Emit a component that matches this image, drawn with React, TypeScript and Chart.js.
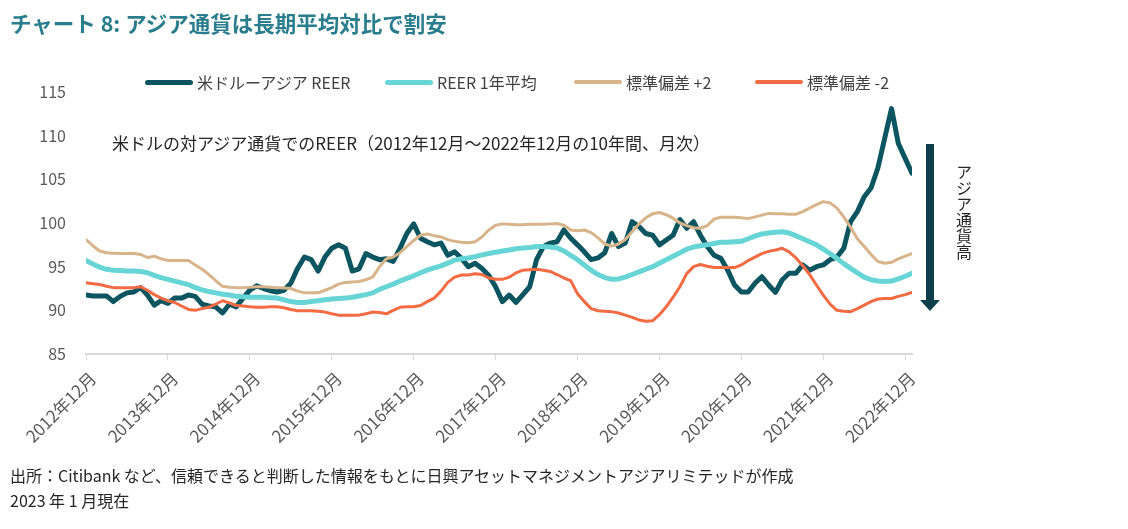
import React, { useEffect, useRef } from "react";
import { Chart, registerables } from "chart.js";

Chart.register(...registerables);

const tickLabels = [
  "2012年12月", "2013年12月", "2014年12月", "2015年12月", "2016年12月", "2017年12月",
  "2018年12月", "2019年12月", "2020年12月", "2021年12月", "2022年12月",
];

const seriesNames = ["米ドルーアジア REER", "REER 1年平均", "標準偏差 +2", "標準偏差 -2"];

const reer = [
  91.75, 91.65, 91.65, 91.65, 91.0, 91.6, 92.0, 92.1, 92.6, 91.75,
  90.6, 91.1, 90.8, 91.4, 91.4, 91.75, 91.6, 90.7, 90.5, 90.4,
  89.7, 90.7, 90.4, 91.4, 92.3, 92.8, 92.5, 92.25, 92.1, 92.3,
  93.1, 94.8, 96.1, 95.8, 94.5, 96.1, 97.1, 97.5, 97.1, 94.5,
  94.75, 96.5, 96.1, 95.8, 95.9, 95.6, 97.1, 98.8, 99.9, 98.25,
  97.85, 97.5, 97.7, 96.3, 96.7, 95.95, 95.0, 95.4, 94.8, 94.0,
  92.7, 91.0, 91.75, 90.9, 91.8, 92.7, 95.8, 97.3, 97.7, 97.85,
  99.2, 98.25, 97.5, 96.7, 95.8, 96.0, 96.6, 98.8, 97.3, 97.7,
  100.15, 99.6, 98.8, 98.6, 97.5, 98.05, 98.6, 100.4, 99.4, 100.15,
  98.6, 97.3, 96.3, 95.95, 94.6, 92.9, 92.1, 92.1, 93.1, 93.85,
  92.9, 92.05, 93.5, 94.25, 94.25, 95.2, 94.6, 95.0, 95.2, 95.8,
  96.1, 97.1, 100.15, 101.3, 103.0, 104.0, 106.3, 109.7, 113.1, 109.1,
  107.4, 105.7,
];

const avg1y = [
  95.7, 95.3, 94.95, 94.7, 94.6, 94.55, 94.5, 94.5, 94.45, 94.3,
  94.0, 93.75, 93.55, 93.35, 93.15, 92.95, 92.6, 92.35, 92.15, 92.0,
  91.85, 91.75, 91.6, 91.55, 91.5, 91.5, 91.5, 91.45, 91.4, 91.2,
  91.0, 90.9, 90.9, 91.0, 91.1, 91.2, 91.3, 91.35, 91.4, 91.5,
  91.65, 91.8, 92.0, 92.4, 92.7, 93.0, 93.35, 93.65, 93.95, 94.3,
  94.6, 94.85, 95.1, 95.4, 95.75, 95.9, 96.0, 96.15, 96.35, 96.5,
  96.65, 96.8, 96.9, 97.05, 97.15, 97.2, 97.3, 97.3, 97.25, 97.15,
  96.8, 96.3, 95.8, 95.2, 94.6, 94.1, 93.75, 93.55, 93.6, 93.8,
  94.1, 94.4, 94.7, 95.0, 95.4, 95.8, 96.2, 96.6, 97.0, 97.25,
  97.4, 97.5, 97.65, 97.8, 97.8, 97.85, 97.9, 98.2, 98.5, 98.75,
  98.85, 98.95, 99.0, 98.85, 98.55, 98.2, 97.85, 97.5, 97.0, 96.5,
  95.95, 95.35, 94.8, 94.3, 93.8, 93.5, 93.35, 93.3, 93.35, 93.6,
  93.9, 94.25,
];

const plus2 = [
  98.1, 97.4, 96.8, 96.6, 96.55, 96.5, 96.5, 96.5, 96.4, 96.05,
  96.2, 95.9, 95.7, 95.7, 95.7, 95.7, 95.2, 94.7, 94.1, 93.4,
  92.75, 92.65, 92.6, 92.6, 92.65, 92.7, 92.7, 92.65, 92.6, 92.55,
  92.5, 92.2, 92.0, 92.0, 92.0, 92.3, 92.6, 93.0, 93.2, 93.25,
  93.3, 93.5, 93.8, 95.0, 95.9, 96.1, 96.6, 97.3, 98.0, 98.6,
  98.75, 98.55, 98.4, 98.1, 97.9, 97.8, 97.75, 97.85, 98.4, 99.2,
  99.75, 99.9, 99.85, 99.8, 99.8, 99.85, 99.85, 99.85, 99.9, 99.95,
  99.75, 99.2, 99.1, 99.2, 98.9, 98.3, 97.6, 97.35, 97.6, 98.1,
  99.0, 99.9, 100.6, 101.05, 101.2, 100.95, 100.55, 100.0, 99.7, 99.45,
  99.4, 99.7, 100.45, 100.65, 100.65, 100.65, 100.6, 100.5, 100.7, 100.9,
  101.1, 101.05, 101.05, 101.0, 101.0, 101.3, 101.7, 102.1, 102.45, 102.3,
  101.7, 100.7, 99.5, 98.2, 97.3, 96.4, 95.6, 95.4, 95.5, 95.9,
  96.2, 96.5,
];

const minus2 = [
  93.15, 93.05, 92.95, 92.75, 92.6, 92.6, 92.6, 92.6, 92.7, 92.3,
  91.8, 91.4, 91.1, 90.9, 90.5, 90.1, 90.0, 90.2, 90.35, 90.7,
  91.1, 90.85, 90.55, 90.5, 90.4, 90.35, 90.35, 90.4, 90.4, 90.3,
  90.1, 89.95, 89.95, 89.95, 89.9, 89.8, 89.6, 89.45, 89.45, 89.45,
  89.45, 89.6, 89.8, 89.75, 89.6, 90.0, 90.35, 90.4, 90.4, 90.55,
  91.0, 91.4, 92.2, 93.2, 93.8, 94.05, 94.05, 94.2, 94.1, 93.7,
  93.55, 93.55, 93.8, 94.3, 94.6, 94.65, 94.7, 94.6, 94.45, 94.1,
  93.7, 93.4, 91.9, 91.0, 90.2, 89.95, 89.9, 89.85, 89.7, 89.45,
  89.2, 88.9, 88.75, 88.8, 89.5, 90.4, 91.5, 92.7, 94.2, 95.0,
  95.25, 95.05, 94.9, 94.9, 94.9, 94.9, 95.2, 95.7, 96.1, 96.5,
  96.75, 96.9, 97.1, 96.7, 96.0, 95.1, 94.1, 92.9, 91.75, 90.7,
  90.0, 89.9, 89.85, 90.2, 90.6, 91.0, 91.3, 91.35, 91.35, 91.6,
  91.8, 92.05,
];

const colors = ["#0b5561", "#67d4d6", "#d8b48b", "#f36b43"];
const widths = [5, 5, 3, 3];

const CANVAS_W = 1128;
const CANVAS_H = 470;
const FONT = "'Noto Sans CJK JP', 'Liberation Sans', sans-serif";
const JP = "'Noto Sans CJK JP', 'Liberation Sans', sans-serif";

export default function App() {
  const ref = useRef<HTMLCanvasElement>(null);

  useEffect(() => {
    const toPts = (arr: number[]) => arr.map((v, i) => ({ x: i, y: v }));
    const all = [reer, avg1y, plus2, minus2];
    const chart = new Chart(ref.current as HTMLCanvasElement, {
      type: "line",
      data: {
        datasets: all.map((arr, k) => ({
          label: seriesNames[k],
          data: toPts(arr),
          borderColor: colors[k],
          backgroundColor: colors[k],
          borderWidth: widths[k],
          pointRadius: 0,
          tension: 0,
          borderJoinStyle: "round" as const,
          borderCapStyle: "round" as const,
          order: 3 - k,
        })),
      },
      options: {
        responsive: false,
        animation: false,
        layout: { padding: { top: 92, right: CANVAS_W - 912, left: 0, bottom: 0 } },
        plugins: { legend: { display: false }, tooltip: { enabled: false } },
        scales: {
          x: {
            type: "linear",
            min: 0,
            max: 121,
            afterFit: (s: any) => {
              s.height = CANVAS_H - 354;
            },
            grid: {
              display: true,
              drawOnChartArea: false,
              drawTicks: true,
              tickLength: 6,
              color: "#d9d9d9",
              lineWidth: 1,
            },
            border: { display: true, color: "#d9d9d9", width: 2 },
            ticks: {
              stepSize: 12,
              includeBounds: false,
              autoSkip: false,
              minRotation: 45,
              maxRotation: 45,
              padding: 8,
              labelOffset: 7,
              color: "#595959",
              font: { family: FONT, size: 17 },
              callback: (v: any) => {
                const idx = Math.round(Number(v) / 12);
                return Number(v) % 12 === 0 ? tickLabels[idx] : null;
              },
            },
          },
          y: {
            min: 85,
            max: 115,
            afterFit: (s: any) => {
              s.width = 86;
            },
            grid: { display: false },
            border: { display: false },
            ticks: {
              stepSize: 5,
              padding: 12,
              color: "#595959",
              font: { family: FONT, size: 16 },
            },
          },
        },
      },
    });
    return () => chart.destroy();
  }, []);

  const legendLeft = [145, 385, 574, 755];

  return (
    <div
      style={{
        position: "relative",
        width: CANVAS_W,
        height: 529,
        background: "#fff",
        overflow: "hidden",
        fontFamily: JP,
      }}
    >
      <style>{`body{margin:0}`}</style>
      <canvas
        ref={ref}
        width={CANVAS_W}
        height={CANVAS_H}
        style={{ position: "absolute", left: 0, top: 0, width: CANVAS_W, height: CANVAS_H }}
      />
      <div
        style={{
          position: "absolute",
          left: 10,
          top: 8,
          fontSize: 21.5,
          fontWeight: 700,
          color: "#2a7d8c",
          lineHeight: "29px",
          whiteSpace: "nowrap",
        }}
      >
        チャート 8: アジア通貨は長期平均対比で割安
      </div>
      {seriesNames.map((name, k) => (
        <div
          key={name}
          style={{
            position: "absolute",
            left: legendLeft[k],
            top: 72,
            height: 20,
            display: "flex",
            alignItems: "center",
            whiteSpace: "nowrap",
          }}
        >
          <div
            style={{
              width: 48,
              height: widths[k] === 5 ? 5 : 4,
              background: colors[k],
              borderRadius: 3,
              marginRight: 4,
            }}
          />
          <span style={{ fontSize: 16, color: "#404040", fontFamily: FONT }}>{name}</span>
        </div>
      ))}
      <div
        style={{
          position: "absolute",
          left: 112,
          top: 131,
          fontSize: 17,
          lineHeight: "24px",
          color: "#262626",
          whiteSpace: "nowrap",
        }}
      >
        米ドルの対アジア通貨でのREER（2012年12月～2022年12月の10年間、月次）
      </div>
      <svg
        width={40}
        height={180}
        style={{ position: "absolute", left: 910, top: 135 }}
      >
        <rect x={16} y={9} width={8} height={158} fill="#0c3f49" />
        <polygon points="10,165 30,165 20,176" fill="#0c3f49" />
      </svg>
      <div
        style={{
          position: "absolute",
          left: 954,
          top: 164,
          fontSize: 16,
          lineHeight: "20px",
          color: "#262626",
          writingMode: "vertical-rl",
          whiteSpace: "nowrap",
        }}
      >
        アジア通貨高
      </div>
      <div
        style={{
          position: "absolute",
          left: 10,
          top: 463,
          fontSize: 16,
          lineHeight: "25px",
          color: "#262626",
          whiteSpace: "nowrap",
        }}
      >
        <div>出所：Citibank など、信頼できると判断した情報をもとに日興アセットマネジメントアジアリミテッドが作成</div>
        <div>2023 年 1 月現在</div>
      </div>
    </div>
  );
}
